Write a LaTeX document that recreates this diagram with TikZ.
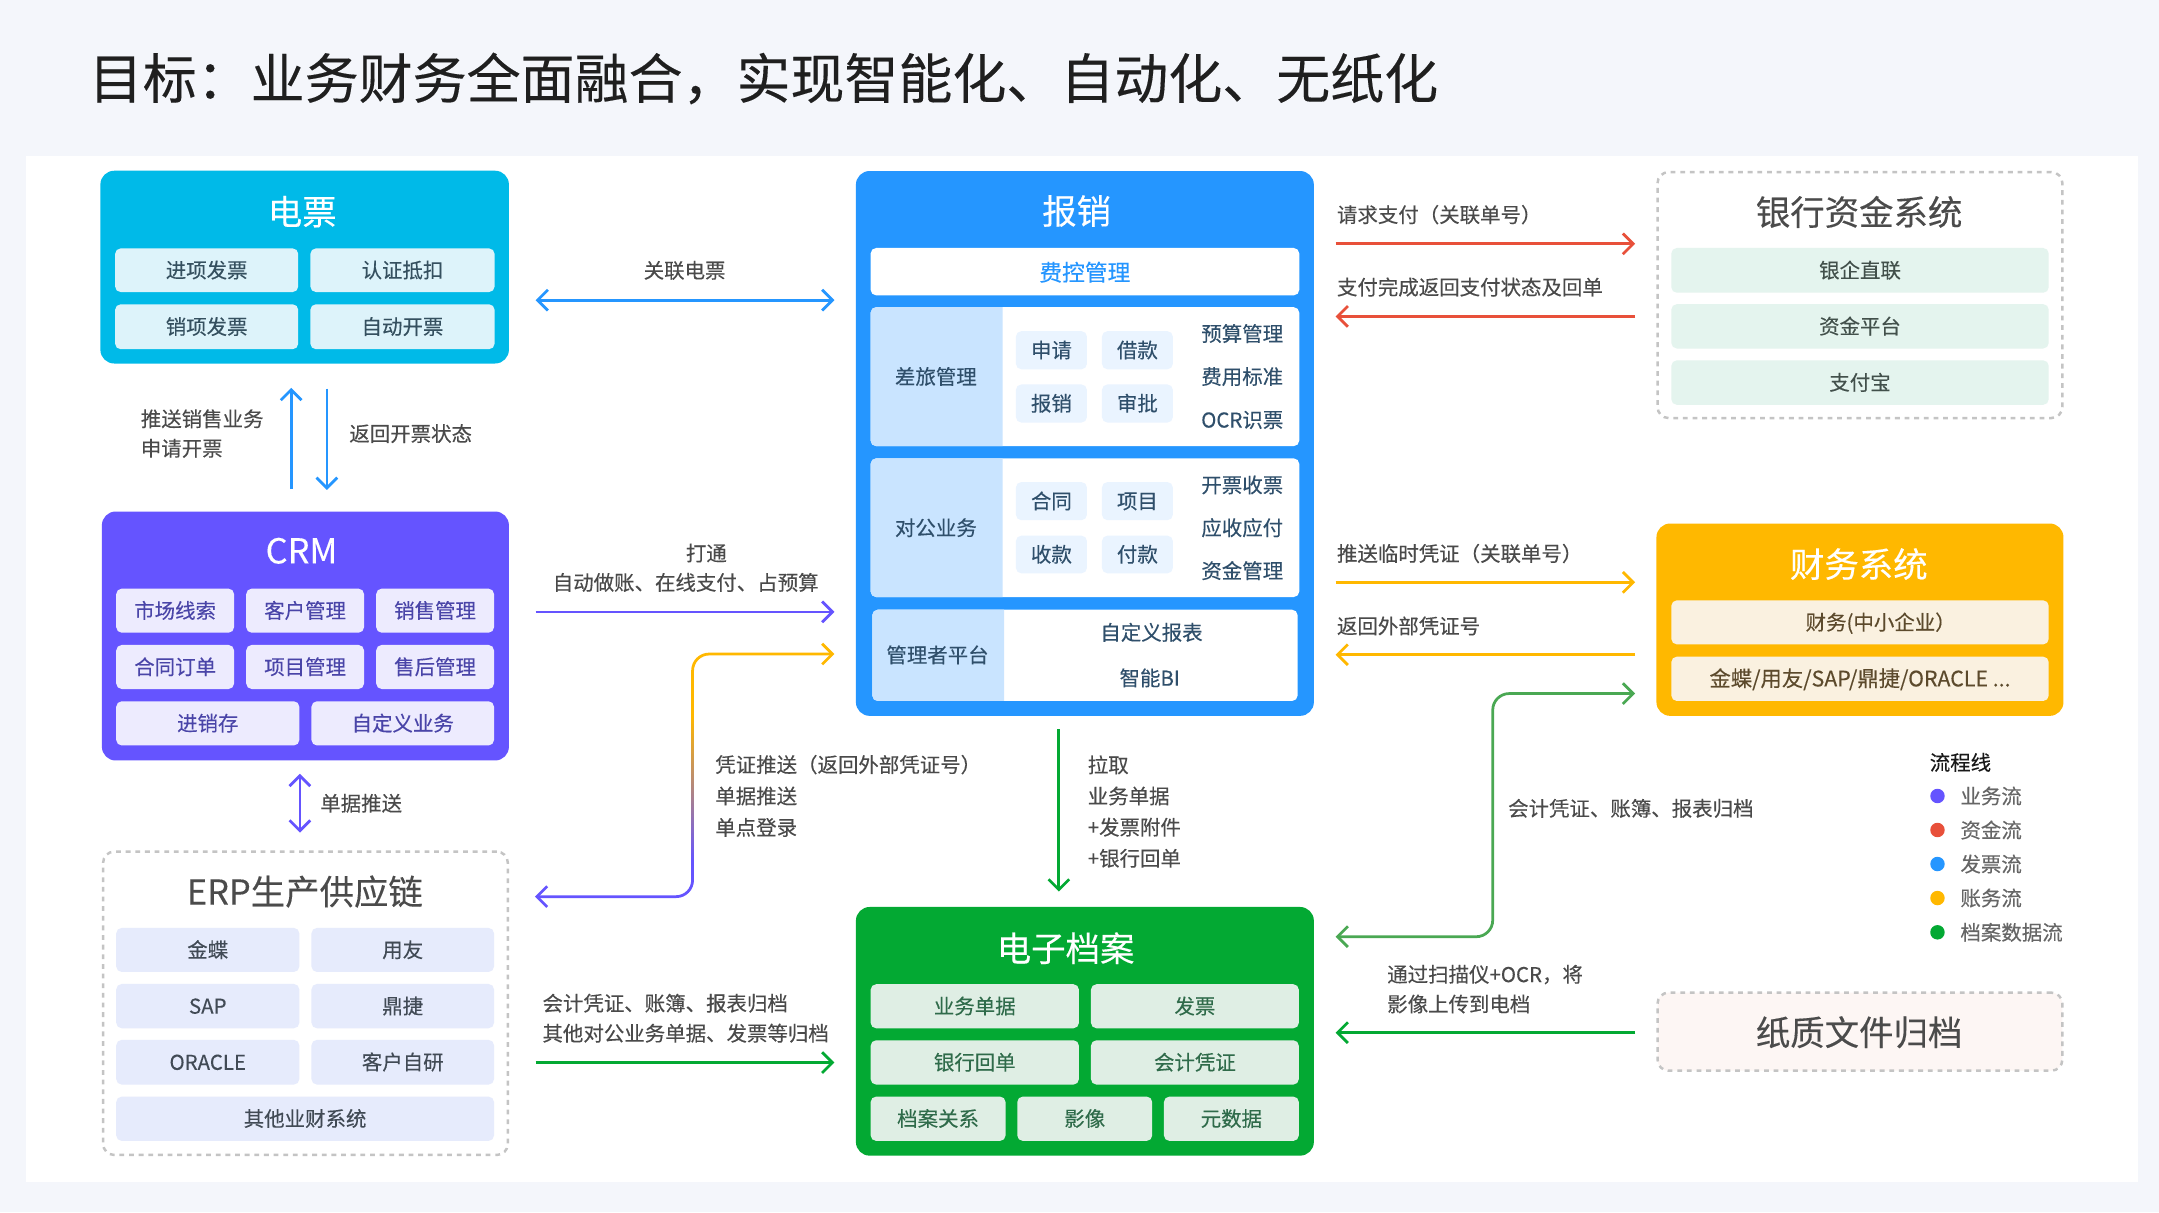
\documentclass[tikz,border=0pt]{standalone}
\usepackage{fontspec}
\setmainfont{Noto Sans CJK SC}[FakeBold=0.25]
\usetikzlibrary{arrows.meta}
\definecolor{pagebg}{HTML}{F4F6FB}
\definecolor{cflow}{HTML}{6554FF}
\definecolor{cred}{HTML}{E8503A}
\definecolor{cblue}{HTML}{2596FF}
\definecolor{cyel}{HTML}{FFB800}
\definecolor{cgreen}{HTML}{03A933}
\definecolor{cgreenb}{HTML}{4AA853}
\definecolor{ccyan}{HTML}{00BAE8}
\definecolor{lbltext}{HTML}{4A4A4A}
\definecolor{titletext}{HTML}{4B4B4B}
\definecolor{dashc}{HTML}{C4C4C4}
\definecolor{pane}{HTML}{C9E4FF}
\definecolor{paperfill}{HTML}{FDF6F4}
\definecolor{ccyanl}{HTML}{DDF3FA}
\definecolor{cyantx}{HTML}{35505F}
\definecolor{crml}{HTML}{EDEBFE}
\definecolor{crmtx}{HTML}{4A45A8}
\definecolor{erpl}{HTML}{E6EBFC}
\definecolor{erptx}{HTML}{414A55}
\definecolor{bankl}{HTML}{E4F4EE}
\definecolor{banktx}{HTML}{42504B}
\definecolor{finl}{HTML}{FAF1E0}
\definecolor{fintx}{HTML}{5C4A2C}
\definecolor{archl}{HTML}{DFEEE4}
\definecolor{archtx}{HTML}{2F6B4A}
\definecolor{expl}{HTML}{EAF4FF}
\definecolor{exptx}{HTML}{2F4F6B}
\tikzset{
  every node/.style={inner sep=0pt,outer sep=0pt},
  big/.style={fill=#1,rounded corners=10pt,draw=none},
  dashbox/.style={draw=dashc,line width=1.8pt,dash pattern=on 3.5pt off 3.5pt,rounded corners=8pt,fill=#1},
  chip/.style={rounded corners=4pt,font=\fontsize{14.85}{18}\selectfont,text height=12.6pt,text depth=1.6pt},
  cyanchip/.style={chip,fill=ccyanl,text=cyantx},
  crmchip/.style={chip,fill=crml,text=crmtx},
  erpchip/.style={chip,fill=erpl,text=erptx},
  bankchip/.style={chip,fill=bankl,text=banktx},
  finchip/.style={chip,fill=finl,text=fintx},
  archchip/.style={chip,fill=archl,text=archtx},
  expchip/.style={chip,fill=expl,text=exptx},
  panel/.style={fill=white,rounded corners=4pt},
  ptxt/.style={font=\fontsize{14.85}{18}\selectfont,text=exptx,text height=12.6pt,text depth=1.6pt},
  boxtitle/.style={font=\fontsize{25}{28}\selectfont,text height=22pt,text depth=3pt,text=#1},
  lbl/.style={font=\fontsize{14.85}{#1}\selectfont,text=lbltext,align=left,anchor=west},
  lbl/.default=22,
  flow/.style={line width=2pt,draw=#1,-{Straight Barb[length=7.5pt,width=15pt]}},
  flowb/.style={line width=2pt,draw=#1,{Straight Barb[length=7.5pt,width=15pt]}-{Straight Barb[length=7.5pt,width=15pt]}},
  legdot/.style={circle,minimum size=10.5pt,fill=#1},
}
% #1 style, #2 name, #3 x1, #4 y1, #5 x2, #6 y2, #7 text
\newcommand{\rbox}[7]{\node[#1,minimum width={(#5-#3)*1pt},minimum height={(#6-#4)*1pt}] (#2) at ({(#3+#5)/2},{(#4+#6)/2}) {#7};}
\begin{document}
\begin{tikzpicture}[x=1pt,y=-1pt]
\useasboundingbox (0,0) rectangle (1568,880.24);
\fill[pagebg] (0,0) rectangle (1568,880.24);
\fill[white] (18.7,113) rectangle (1552.7,858.2);
\node[anchor=west,font=\fontsize{39.2}{44}\selectfont,text=black!88] (maintitle) at (64.5,57) {目标：业务财务全面融合，实现智能化、自动化、无纸化};

% 电票
\rbox{big=ccyan}{einv}{72.9}{124}{369.6}{264}{}
\node[boxtitle=white] (einvT) at (219.5,153.7) {电票};
\rbox{cyanchip}{e1}{83.6}{180.4}{216.6}{212.1}{进项发票}
\rbox{cyanchip}{e2}{225.4}{180.4}{359.2}{212.1}{认证抵扣}
\rbox{cyanchip}{e3}{83.6}{221}{216.6}{253.6}{销项发票}
\rbox{cyanchip}{e4}{225.4}{221}{359.2}{253.6}{自动开票}

% CRM
\rbox{big=cflow}{crm}{74}{371.5}{369.6}{552.3}{}
\node[boxtitle=white] (crmT) at (219,399.7) {CRM};
\rbox{crmchip}{c1}{84.4}{427.5}{170}{459.5}{市场线索}
\rbox{crmchip}{c2}{178.8}{427.5}{264.4}{459.5}{客户管理}
\rbox{crmchip}{c3}{273.2}{427.5}{358.8}{459.5}{销售管理}
\rbox{crmchip}{c4}{84.4}{468.4}{170}{500.4}{合同订单}
\rbox{crmchip}{c5}{178.8}{468.4}{264.4}{500.4}{项目管理}
\rbox{crmchip}{c6}{273.2}{468.4}{358.8}{500.4}{售后管理}
\rbox{crmchip}{c7}{84.4}{509.3}{217.4}{541.4}{进销存}
\rbox{crmchip}{c8}{226.2}{509.3}{358.8}{541.4}{自定义业务}

% ERP
\rbox{dashbox=white}{erp}{74.9}{618.5}{368.8}{838.8}{}
\node[boxtitle=titletext] (erpT) at (221.4,647.5) {ERP生产供应链};
\rbox{erpchip}{r1}{84.4}{673.9}{217.4}{705.9}{金蝶}
\rbox{erpchip}{r2}{226.2}{673.9}{358.8}{705.9}{用友}
\rbox{erpchip}{r3}{84.4}{714.6}{217.4}{746.8}{SAP}
\rbox{erpchip}{r4}{226.2}{714.6}{358.8}{746.8}{鼎捷}
\rbox{erpchip}{r5}{84.4}{755.2}{217.4}{787.7}{ORACLE}
\rbox{erpchip}{r6}{226.2}{755.2}{358.8}{787.7}{客户自研}
\rbox{erpchip}{r7}{84.4}{796.4}{358.8}{828.6}{其他业财系统}

% 报销
\rbox{big=cblue}{exp}{621.6}{124.2}{954.2}{519.9}{}
\node[boxtitle=white] (expT) at (781.9,153.2) {报销};
\rbox{panel}{fk}{632.3}{180.1}{943.6}{214.5}{}
\node[font=\fontsize{16.5}{20}\selectfont,text=cblue,text height=14pt,text depth=2pt] (fkT) at (787.9,198) {费控管理};
% 差旅
\rbox{panel}{tp}{632.3}{223.1}{943.6}{324}{}
\fill[pane] (728.1,223.1) [rounded corners=4pt] -- (632.3,223.1) -- (632.3,324) [sharp corners] -- (728.1,324) -- cycle;
\node[ptxt] (tpT) at (679.7,273.6) {差旅管理};
\rbox{expchip}{t1}{737.8}{240.5}{789.4}{268.2}{申请}
\rbox{expchip}{t2}{800.3}{240.5}{851.8}{268.2}{借款}
\rbox{expchip}{t3}{737.8}{279.2}{789.4}{306.9}{报销}
\rbox{expchip}{t4}{800.3}{279.2}{851.8}{306.9}{审批}
\node[ptxt] (t5) at (902.2,242.4) {预算管理};
\node[ptxt] (t6) at (902.2,273.6) {费用标准};
\node[ptxt] (t7) at (902.2,305) {OCR识票};
% 对公
\rbox{panel}{bp}{632.3}{332.9}{943.6}{433.6}{}
\fill[pane] (728.1,332.9) [rounded corners=4pt] -- (632.3,332.9) -- (632.3,433.6) [sharp corners] -- (728.1,433.6) -- cycle;
\node[ptxt] (bpT) at (679.7,383.4) {对公业务};
\rbox{expchip}{b1}{737.8}{350.1}{789.4}{377.8}{合同}
\rbox{expchip}{b2}{800.3}{350.1}{851.8}{377.8}{项目}
\rbox{expchip}{b3}{737.8}{389}{789.4}{416.4}{收款}
\rbox{expchip}{b4}{800.3}{389}{851.8}{416.4}{付款}
\node[ptxt] (b5) at (902.2,352.3) {开票收票};
\node[ptxt] (b6) at (902.2,383.4) {应收应付};
\node[ptxt] (b7) at (902.2,414.6) {资金管理};
% 管理者
\rbox{panel}{mp}{633.5}{442.8}{942.4}{509.1}{}
\fill[pane] (729.2,442.8) [rounded corners=4pt] -- (633.5,442.8) -- (633.5,509.1) [sharp corners] -- (729.2,509.1) -- cycle;
\node[ptxt] (mpT) at (680.9,475.8) {管理者平台};
\node[ptxt] (m1) at (836.3,459.4) {自定义报表};
\node[ptxt] (m2) at (835,492.5) {智能BI};

% 电子档案
\rbox{big=cgreen}{arc}{621.6}{658.7}{954.2}{839.3}{}
\node[boxtitle=white] (arcT) at (773.9,688.7) {电子档案};
\rbox{archchip}{a1}{632.3}{714.8}{783.6}{746.8}{业务单据}
\rbox{archchip}{a2}{792.3}{714.8}{943.3}{746.8}{发票}
\rbox{archchip}{a3}{632.3}{755.5}{783.6}{787.7}{银行回单}
\rbox{archchip}{a4}{792.3}{755.5}{943.3}{787.7}{会计凭证}
\rbox{archchip}{a5}{632.3}{796.4}{730.3}{828.6}{档案关系}
\rbox{archchip}{a6}{738.8}{796.4}{836.8}{828.6}{影像}
\rbox{archchip}{a7}{845.3}{796.4}{943.3}{828.6}{元数据}

% 银行资金系统
\rbox{dashbox=white}{bank}{1203.8}{125}{1497.8}{303.6}{}
\node[boxtitle=titletext] (bankT) at (1350.2,154) {银行资金系统};
\rbox{bankchip}{k1}{1213.8}{180.1}{1487.9}{212.6}{银企直联}
\rbox{bankchip}{k2}{1213.8}{220.9}{1487.9}{253.1}{资金平台}
\rbox{bankchip}{k3}{1213.8}{261.7}{1487.9}{294}{支付宝}

% 财务系统
\rbox{big=cyel}{fin}{1203}{380.2}{1498.6}{519.9}{}
\node[boxtitle=white] (finT) at (1350,409.7) {财务系统};
\rbox{finchip}{f1}{1213.8}{436}{1487.9}{468}{\hspace*{30pt}财务(中小企业）}
\rbox{finchip,font=\fontsize{15.5}{18}\selectfont}{f2}{1213.8}{476.9}{1487.9}{509.1}{金蝶/用友/SAP/鼎捷/ORACLE ...}

% 纸质文件归档
\rbox{dashbox=paperfill}{paper}{1203.8}{720.9}{1497.8}{777.6}{}
\node[boxtitle=titletext] (paperT) at (1350.2,749.7) {纸质文件归档};

% connector end points
\coordinate (p1a) at (211.5,355.2); \coordinate (p1b) at (211.5,281.7);
\coordinate (p2a) at (237.4,282.3); \coordinate (p2b) at (237.4,355.8);
\coordinate (p3a) at (389,218);     \coordinate (p3b) at (606,218);
\coordinate (p4a) at (389,444.4);   \coordinate (p4b) at (606,444.4);
\coordinate (p5a) at (606,475);     \coordinate (p5c) at (503,475);
\coordinate (p5m) at (503,520);     \coordinate (p5n) at (503,625);
\coordinate (p5d) at (503,651.2);   \coordinate (p5b) at (388.5,651.2);
\coordinate (p6a) at (217.8,562);   \coordinate (p6b) at (217.8,604.7);
\coordinate (p7a) at (389,771.7);   \coordinate (p7b) at (606,771.7);
\coordinate (p8a) at (769,529.6);   \coordinate (p8b) at (769,647.5);
\coordinate (p9a) at (970,177.1);   \coordinate (p9b) at (1187.5,177.1);
\coordinate (p10a) at (1187.5,229.8); \coordinate (p10b) at (970,229.8);
\coordinate (p11a) at (970,422.9);  \coordinate (p11b) at (1187.5,422.9);
\coordinate (p12a) at (1187.5,475.5); \coordinate (p12b) at (970,475.5);
\coordinate (p13a) at (1187.5,503.7); \coordinate (p13c) at (1084.1,503.7);
\coordinate (p13d) at (1084.1,680.3); \coordinate (p13b) at (970,680.3);
\coordinate (p14a) at (1187.5,750); \coordinate (p14b) at (970,750);

% connectors
\draw[flow=cblue] (p1a) -- (p1b);
\draw[flow=cblue] (p2a) -- (p2b);
\draw[flowb=cblue] (p3a) -- (p3b);
\draw[flow=cflow] (p4a) -- (p4b);
\draw[flow=cyel,rounded corners=12pt] (p5m) -- (p5c) -- (p5a);
\shade[top color=cyel,bottom color=cflow] (502,519.9) rectangle (504,625.1);
\draw[flow=cflow,rounded corners=12pt] (p5n) -- (p5d) -- (p5b);
\draw[flowb=cflow] (p6a) -- (p6b);
\draw[flow=cgreen] (p7a) -- (p7b);
\draw[flow=cgreen] (p8a) -- (p8b);
\draw[flow=cred] (p9a) -- (p9b);
\draw[flow=cred] (p10a) -- (p10b);
\draw[flow=cyel] (p11a) -- (p11b);
\draw[flow=cyel] (p12a) -- (p12b);
\draw[flowb=cgreenb,rounded corners=12pt] (p13a) -- (p13c) -- (p13d) -- (p13b);
\draw[flow=cgreen] (p14a) -- (p14b);

% labels
\node[lbl=21.4] (l1) at (102.3,314.9) {推送销售业务\\申请开票};
\node[lbl] (l2) at (253.7,314.9) {返回开票状态};
\node[lbl] (l3) at (467.5,196.4) {关联电票};
\node[font=\fontsize{14.85}{18}\selectfont,text=lbltext] (l4) at (513,401.7) {打通};
\node[font=\fontsize{14.85}{18}\selectfont,text=lbltext] (l5) at (498,423) {自动做账、在线支付、占预算};
\node[lbl=22.8] (l6) at (519.5,578) {凭证推送（返回外部凭证号）\\单据推送\\单点登录};
\node[lbl] (l7) at (232.6,583.4) {单据推送};
\node[lbl=21.8] (l8) at (394,739.5) {会计凭证、账簿、报表归档\\其他对公业务单据、发票等归档};
\node[lbl=22.6] (l9) at (790,589.4) {拉取\\业务单据\\+发票附件\\+银行回单};
\node[lbl] (l10) at (971,155.9) {请求支付（关联单号）};
\node[lbl] (l11) at (971,208.5) {支付完成返回支付状态及回单};
\node[lbl] (l12) at (971,402) {推送临时凭证（关联单号）};
\node[lbl] (l13) at (971,454.6) {返回外部凭证号};
\node[lbl] (l14) at (1095.3,587.1) {会计凭证、账簿、报表归档};
\node[lbl=21.6] (l15) at (1007.5,718.4) {通过扫描仪+OCR，将\\影像上传到电档};

% legend
\node[lbl,text=black!90] (lg) at (1401.5,553.7) {流程线};
\node[legdot=cflow] (d1) at (1407.1,578.1) {};
\node[legdot=cred] (d2) at (1407.1,602.8) {};
\node[legdot=cblue] (d3) at (1407.1,627.5) {};
\node[legdot=cyel] (d4) at (1407.1,652.2) {};
\node[legdot=cgreen] (d5) at (1407.1,677.1) {};
\node[lbl,text=black!60] (t1l) at (1423.8,578.1) {业务流};
\node[lbl,text=black!60] (t2l) at (1423.8,602.8) {资金流};
\node[lbl,text=black!60] (t3l) at (1423.8,627.5) {发票流};
\node[lbl,text=black!60] (t4l) at (1423.8,652.2) {账务流};
\node[lbl,text=black!60] (t5l) at (1423.8,677.1) {档案数据流};
\end{tikzpicture}
\end{document}
